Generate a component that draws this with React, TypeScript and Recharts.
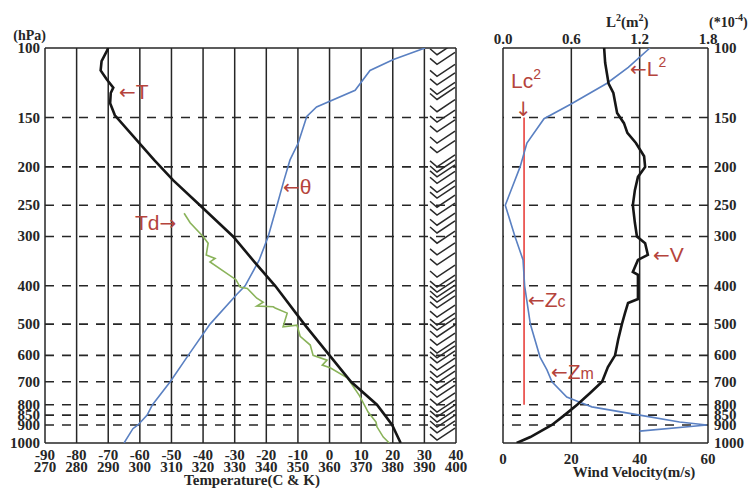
import React from "react";
import {
  ScatterChart,
  Scatter,
  XAxis,
  YAxis,
  CartesianGrid,
  ReferenceLine,
} from "recharts";

// pressure levels (hPa)
const pressureTicks = [100, 150, 200, 250, 300, 400, 500, 600, 700, 800, 850, 900, 1000];
const dashedLevels = [150, 200, 250, 300, 400, 500, 600, 700, 800, 850, 900];

// left panel tick labels
const tempTicksC = [-90, -80, -70, -60, -50, -40, -30, -20, -10, 0, 10, 20, 30, 40];
const tempTicksK = [270, 280, 290, 300, 310, 320, 330, 340, 350, 360, 370, 380, 390, 400];

// temperature T (C)
const tP = [100, 102, 108, 114, 120, 126, 130, 138, 148, 192, 216, 250, 300, 350, 400, 500, 600, 700, 800, 850, 900, 1000];
const tVal = [-70, -70.5, -72.1, -72.4, -70.5, -68.4, -69.2, -69.4, -67.9, -55.5, -49.5, -41, -30.5, -23.5, -17.2, -8, 0, 6.8, 15, 17.5, 19.8, 22.5];

// dew point Td (C)
const tdP = [262, 277, 300, 312, 334, 341, 348, 386, 403, 406, 430, 440, 450, 452, 455, 469, 508, 503, 537, 565, 600, 617, 635, 645, 684, 700, 760, 835, 885, 910, 966, 1000];
const tdVal = [-46, -44.1, -40, -38.4, -39, -36.2, -37.8, -29.6, -28.3, -26, -23, -21, -23, -17.8, -17.2, -13.4, -14.7, -10.3, -9.3, -6.1, -5.2, -0.8, -2.3, 0.2, 5.6, 6.5, 9.5, 12.2, 14.7, 15, 17, 18.9];

// potential temperature theta (K)
const thP = [100, 107, 114, 128, 141, 149, 174, 192, 216, 250, 300, 345, 400, 420, 500, 600, 700, 800, 850, 900, 920, 1000];
const thVal = [390.2, 380.2, 372.8, 368.1, 355.9, 352.8, 350.1, 347.5, 345.6, 343.4, 340.6, 337.7, 333.3, 330.7, 322.2, 315.3, 309.6, 304, 302.3, 299.4, 297.8, 295];

// wind barb levels (hPa)
const barbLevels = [104, 110, 118, 124, 131, 135, 145, 154, 163, 174, 184, 200, 206, 212, 220, 232, 240, 253, 265, 281, 294, 312, 334, 354, 380, 403, 415, 427, 440, 455, 480, 503, 518, 539, 565, 592, 609, 627, 654, 681, 705, 734, 765, 801, 835, 859, 885, 911, 943, 983];
const BARB_T = 34;

// right panel
const windTicks = [0, 20, 40, 60];
const lTicks = [0, 0.6, 1.2, 1.8];
const lTickLabels = ["0.0", "0.6", "1.2", "1.8"];

// wind velocity V (m/s)
const vP = [100, 109, 123, 130, 146, 155, 164, 174, 188, 200, 212, 229, 250, 277, 300, 312, 334, 344, 369, 375, 400, 432, 442, 469, 500, 548, 600, 642, 700, 747, 800, 850, 900, 966, 1000];
const vVal = [29.6, 29.9, 30.9, 32.3, 33.4, 35.4, 36.4, 38.9, 41.3, 41.6, 39.5, 38.6, 38, 38.6, 39.2, 41.6, 42.4, 39.5, 38, 39.5, 39.5, 39.5, 36.6, 35.7, 34.8, 33.7, 32.8, 30.7, 29, 25.5, 21.7, 18, 14.3, 8, 4];

// L^2 (1e-4 m^-2)
const lP = [100, 112, 123, 139, 151, 174, 200, 250, 300, 344, 400, 500, 606, 653, 700, 765, 790, 810, 850, 885, 900, 933];
const lVal = [1.29, 1.1, 0.91, 0.59, 0.36, 0.21, 0.15, 0.02, 0.105, 0.176, 0.19, 0.24, 0.325, 0.386, 0.43, 0.56, 0.68, 0.78, 1.2, 1.55, 1.79, 1.2];

// critical Lc^2
const lcP = [150, 800];
const lcVal = [0.185, 0.185];

const zip = (ps: number[], vs: number[]) => ps.map((p, i) => ({ p, v: vs[i] }));

const tData = zip(tP, tVal);
const tdData = zip(tdP, tdVal);
const thData = zip(thP, thVal);
const barbData = barbLevels.map((p) => ({ p, v: BARB_T }));
const vData = zip(vP, vVal);
const lData = zip(lP, lVal);
const lcData = zip(lcP, lcVal);

const SERIF = "'Liberation Serif', 'Times New Roman', serif";
const SANS = "'Liberation Sans', Arial, 'DejaVu Sans', sans-serif";
const ARROW = "'DejaVu Sans', sans-serif";
const INK = "#262626";
const BLUE = "#5a80c2";
const ANNO = "#b5443c";

const noDot = () => <g />;

const barbShape = (props: any) => {
  const { cx, cy } = props;
  return (
    <path
      d={`M${cx - 7},${cy - 6} L${cx},${cy} L${cx + 18},${cy - 12}`}
      fill="none"
      stroke="#2a2a2a"
      strokeWidth={1.5}
    />
  );
};

const numStyle = {
  fontFamily: SERIF,
  fontWeight: 700,
  fontSize: 15,
  fill: INK,
};

const LeftPTick = (props: any) => (
  <text x={40} y={props.y} dy={5} textAnchor="end" {...numStyle}>
    {props.payload.value}
  </text>
);

const RightPTick = (props: any) => (
  <text x={props.x} y={props.y} dy={5} textAnchor="start" {...numStyle}>
    {props.payload.value}
  </text>
);

const TempTick = (props: any) => {
  const i = tempTicksC.indexOf(props.payload.value);
  return (
    <g>
      <text x={props.x} y={props.y + 9} textAnchor="middle" {...numStyle}>
        {tempTicksC[i]}
      </text>
      <text x={props.x} y={props.y + 21} textAnchor="middle" {...numStyle}>
        {tempTicksK[i]}
      </text>
    </g>
  );
};

const WindTick = (props: any) => (
  <text x={props.x} y={props.y + 13} textAnchor="middle" {...numStyle}>
    {props.payload.value}
  </text>
);

const LTick = (props: any) => {
  const i = lTicks.indexOf(props.payload.value);
  return (
    <text x={props.x} y={props.y + 4} textAnchor="middle" {...numStyle}>
      {lTickLabels[i]}
    </text>
  );
};

const annoStyle = { fontFamily: SANS, fontSize: 21, fill: ANNO };
const Arrow = ({ ch }: { ch: string }) => (
  <tspan fontFamily={ARROW} fontSize={20}>{ch}</tspan>
);

export default function App() {
  return (
    <div style={{ position: "absolute", left: 0, top: 0, width: 750, height: 489, background: "#fff" }}>
      <div style={{ position: "absolute", left: 0, top: 0 }}>
        <ScatterChart width={470} height={489} margin={{ top: 48, right: 14, bottom: 0, left: 0 }}>
          <XAxis
            xAxisId="c"
            type="number"
            dataKey="v"
            domain={[-90, 40]}
            ticks={tempTicksC}
            interval={0}
            axisLine={false}
            tickLine={false}
            height={46}
            tick={TempTick}
            allowDataOverflow
          />
          <XAxis xAxisId="k" type="number" dataKey="v" domain={[270, 400]} hide allowDataOverflow />
          <YAxis
            type="number"
            dataKey="p"
            scale="log"
            domain={[100, 1000]}
            reversed
            ticks={pressureTicks}
            interval={0}
            axisLine={false}
            tickLine={false}
            width={45}
            tick={LeftPTick}
            allowDataOverflow
          />
          <CartesianGrid xAxisId="c" horizontal={false} stroke={INK} strokeWidth={1.5} />
          {dashedLevels.map((p) => (
            <ReferenceLine key={p} xAxisId="c" y={p} stroke={INK} strokeWidth={1.6} strokeDasharray="9 8" />
          ))}
          <ReferenceLine xAxisId="c" y={100} stroke={INK} strokeWidth={1.5} />
          <ReferenceLine xAxisId="c" y={1000} stroke={INK} strokeWidth={1.5} />
          <Scatter xAxisId="k" data={thData} line={{ stroke: BLUE, strokeWidth: 1.6 }} lineType="joint" shape={noDot} isAnimationActive={false} />
          <Scatter xAxisId="c" data={tdData} line={{ stroke: "#8ab35a", strokeWidth: 1.6 }} lineType="joint" shape={noDot} isAnimationActive={false} />
          <Scatter xAxisId="c" data={tData} line={{ stroke: "#161616", strokeWidth: 2.6 }} lineType="joint" shape={noDot} isAnimationActive={false} />
          <Scatter xAxisId="c" data={barbData} shape={barbShape} isAnimationActive={false} />
        </ScatterChart>
      </div>

      <div style={{ position: "absolute", left: 480, top: 0 }}>
        <ScatterChart width={270} height={489} margin={{ top: 0, right: 0, bottom: 0, left: 23 }}>
          <XAxis
            xAxisId="w"
            type="number"
            dataKey="v"
            domain={[0, 60]}
            ticks={windTicks}
            interval={0}
            axisLine={false}
            tickLine={false}
            height={46}
            tick={WindTick}
            allowDataOverflow
          />
          <XAxis
            xAxisId="l"
            orientation="top"
            type="number"
            dataKey="v"
            domain={[0, 1.8]}
            ticks={lTicks}
            interval={0}
            axisLine={false}
            tickLine={false}
            height={48}
            tick={LTick}
            allowDataOverflow
          />
          <YAxis
            type="number"
            dataKey="p"
            orientation="right"
            scale="log"
            domain={[100, 1000]}
            reversed
            ticks={pressureTicks}
            interval={0}
            axisLine={false}
            tickLine={false}
            tickSize={0}
            tickMargin={6}
            width={42}
            tick={RightPTick}
            allowDataOverflow
          />
          <CartesianGrid xAxisId="w" horizontal={false} stroke={INK} strokeWidth={1.5} />
          {dashedLevels.map((p) => (
            <ReferenceLine key={p} xAxisId="w" y={p} stroke={INK} strokeWidth={1.6} strokeDasharray="9 8" />
          ))}
          <ReferenceLine xAxisId="w" y={100} stroke={INK} strokeWidth={1.5} />
          <ReferenceLine xAxisId="w" y={1000} stroke={INK} strokeWidth={1.5} />
          <Scatter xAxisId="l" data={lcData} line={{ stroke: "#e8413c", strokeWidth: 1.6 }} lineType="joint" shape={noDot} isAnimationActive={false} />
          <Scatter xAxisId="l" data={lData} line={{ stroke: BLUE, strokeWidth: 1.6 }} lineType="joint" shape={noDot} isAnimationActive={false} />
          <Scatter xAxisId="w" data={vData} line={{ stroke: "#161616", strokeWidth: 2.6 }} lineType="joint" shape={noDot} isAnimationActive={false} />
        </ScatterChart>
      </div>

      <svg width={750} height={489} style={{ position: "absolute", left: 0, top: 0, pointerEvents: "none" }}>
        <text x={46} y={40} textAnchor="end" fontFamily={SERIF} fontWeight={700} fontSize={14} fill={INK}>(hPa)</text>
        <text x={252} y={485} textAnchor="middle" fontFamily={SERIF} fontWeight={700} fontSize={15} fill={INK}>Temperature(C &amp; K)</text>
        <text x={634} y={477} textAnchor="middle" fontFamily={SERIF} fontWeight={700} fontSize={15} fill={INK}>Wind Velocity(m/s)</text>
        <text x={606} y={27} fontFamily={SERIF} fontWeight={700} fontSize={15} fill={INK}>
          L<tspan dy={-6} fontSize={10}>2</tspan>
          <tspan dy={6}>(m</tspan>
          <tspan dy={-6} fontSize={10}>2</tspan>
          <tspan dy={6}>)</tspan>
        </text>
        <text x={709} y={27} fontFamily={SERIF} fontWeight={700} fontSize={14} fill={INK}>
          (*10<tspan dy={-6} fontSize={10}>-4</tspan>
          <tspan dy={6}>)</tspan>
        </text>

        <text x={119} y={99} {...annoStyle}><Arrow ch="←" />T</text>
        <text x={283} y={194} {...annoStyle}><Arrow ch="←" />θ</text>
        <text x={135} y={230} {...annoStyle}>Td<Arrow ch="→" /></text>
        <text x={630} y={76} {...annoStyle}>
          <Arrow ch="←" />L<tspan dy={-9} fontSize={14}>2</tspan>
        </text>
        <text x={511} y={88} {...annoStyle}>
          Lc<tspan dy={-9} fontSize={14}>2</tspan>
        </text>
        <text x={515} y={116} {...annoStyle}><Arrow ch="↓" /></text>
        <text x={653} y={262} {...annoStyle}><Arrow ch="←" />V</text>
        <text x={528} y={307} {...annoStyle}>
          <Arrow ch="←" />Z<tspan fontSize={16}>c</tspan>
        </text>
        <text x={551} y={379} {...annoStyle}>
          <Arrow ch="←" />Z<tspan fontSize={16}>m</tspan>
        </text>
      </svg>
    </div>
  );
}
